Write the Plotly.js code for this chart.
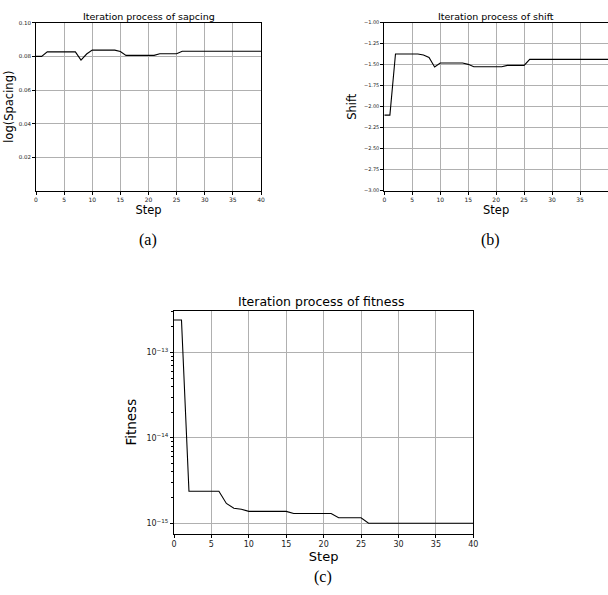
<!DOCTYPE html>
<html><head><meta charset="utf-8">
<script src="https://cdn.plot.ly/plotly-3.0.1.min.js"></script>
<style>html,body{margin:0;padding:0;background:#fff}#chart{width:608px;height:595px}</style>
</head><body><div id="chart"></div>
<script>
const steps = Array.from({length: 41}, (_, i) => i);
const spacing = [0.0800,0.0800,0.0827,0.0827,0.0827,0.0827,0.0827,0.0827,0.0778,0.0814,
  0.0837,0.0837,0.0837,0.0837,0.0837,0.0829,0.0806,0.0806,0.0806,0.0806,0.0806,0.0806,
  0.0816,0.0816,0.0816,0.0816,0.0831,0.0831,0.0831,0.0831,0.0831,0.0831,0.0831,0.0831,
  0.0831,0.0831,0.0831,0.0831,0.0831,0.0831,0.0831];
const shift = [-2.10,-2.10,-1.373,-1.373,-1.373,-1.373,-1.373,-1.385,-1.413,-1.528,
  -1.48,-1.48,-1.48,-1.48,-1.48,-1.496,-1.524,-1.524,-1.524,-1.524,-1.524,-1.524,
  -1.508,-1.508,-1.508,-1.508,-1.437,-1.437,-1.437,-1.437,-1.437,-1.437,-1.437,-1.437,
  -1.437,-1.437,-1.437,-1.437,-1.437,-1.437,-1.437];
const fitness = [2.42e-13,2.42e-13,2.37e-15,2.37e-15,2.37e-15,2.37e-15,2.37e-15,1.71e-15,1.50e-15,1.46e-15,
  1.38e-15,1.38e-15,1.38e-15,1.38e-15,1.38e-15,1.38e-15,1.30e-15,1.30e-15,1.30e-15,1.30e-15,1.30e-15,1.30e-15,
  1.16e-15,1.16e-15,1.16e-15,1.16e-15,1.0e-15,1.0e-15,1.0e-15,1.0e-15,1.0e-15,1.0e-15,1.0e-15,1.0e-15,
  1.0e-15,1.0e-15,1.0e-15,1.0e-15,1.0e-15,1.0e-15,1.0e-15];
const xTicks = [0,5,10,15,20,25,30,35,40];
const spacingTicks = [0.02,0.04,0.06,0.08,0.10];
const spacingTickText = ['0.02','0.04','0.06','0.08','0.10'];
const shiftTicks = [-3.00,-2.75,-2.50,-2.25,-2.00,-1.75,-1.50,-1.25,-1.00];
const shiftTickText = ['−3.00','−2.75','−2.50','−2.25','−2.00','−1.75','−1.50','−1.25','−1.00'];
const fitTicks = [1e-15,1e-14,1e-13];
const fitTickText = ['10<sup>−15</sup>','10<sup>−14</sup>','10<sup>−13</sup>'];
const fitMinorTicks = [2e-15,3e-15,4e-15,5e-15,6e-15,7e-15,8e-15,9e-15,
  2e-14,3e-14,4e-14,5e-14,6e-14,7e-14,8e-14,9e-14,2e-13,3e-13];

const F = 'DejaVu Sans, sans-serif';
const line = {color:'#000', width:1.1};
const traces = [
  {x: steps, y: spacing, type:'scatter', mode:'lines', line, xaxis:'x', yaxis:'y'},
  {x: steps, y: shift, type:'scatter', mode:'lines', line, xaxis:'x2', yaxis:'y2'},
  {x: steps, y: fitness, type:'scatter', mode:'lines', line, xaxis:'x3', yaxis:'y3'}
];
function ax(extra, fs){
  return Object.assign({showline:true, mirror:true, linecolor:'#000', linewidth:1,
    showgrid:true, gridcolor:'#b0b0b0', gridwidth:1, zeroline:false,
    ticks:'outside', ticklen:3, tickcolor:'#000', tickwidth:1,
    tickfont:{family:F, size:fs, color:'#222'}}, extra);
}
const W=608, H=595;
const px = v => v/W, py = v => 1 - v/H;
function note(text, x, y, size, fam){
  return {text, x:px(x), y:py(y), xref:'paper', yref:'paper', xanchor:'center', yanchor:'middle',
    showarrow:false, font:{family:fam||F, size, color:'#000'}};
}
const layout = {
  width:W, height:H, margin:{l:0,r:0,t:0,b:0}, showlegend:false,
  paper_bgcolor:'#fff', plot_bgcolor:'#fff',
  xaxis: ax({domain:[px(36),px(261)], range:[0,40], tickvals:xTicks, anchor:'y',
    title:{text:'Step', font:{family:F,size:11.5,color:'#000'}, standoff:0}}, 6),
  yaxis: ax({domain:[py(190.7),py(22.7)], range:[0.0003,0.1], tickvals:spacingTicks, ticktext:spacingTickText, anchor:'x',
    title:{text:'log(Spacing)', font:{family:F,size:11.5,color:'#000'}, standoff:2}}, 5.5),
  xaxis2: ax({domain:[px(384.3),1], range:[0,40], tickvals:xTicks, anchor:'y2',
    title:{text:'Step', font:{family:F,size:11.5,color:'#000'}, standoff:0}}, 6),
  yaxis2: ax({domain:[py(190.7),py(22.7)], range:[-3,-1], tickvals:shiftTicks, ticktext:shiftTickText, anchor:'x2',
    title:{text:'Shift', font:{family:F,size:11.5,color:'#000'}, standoff:4}}, 5),
  xaxis3: ax({domain:[px(174),px(473.3)], range:[0,40], tickvals:xTicks, anchor:'y3',
    title:{text:'Step', font:{family:F,size:13,color:'#000'}, standoff:0}}, 8),
  yaxis3: ax({domain:[py(533.7),py(310.7)], type:'log', range:[-15.122,-12.508], tickvals:fitTicks, ticktext:fitTickText, anchor:'x3',
    minor:{ticks:'outside', ticklen:2, tickcolor:'#000', tickmode:'array', tickvals:fitMinorTicks, showgrid:false},
    title:{text:'Fitness', font:{family:F,size:13.5,color:'#000'}, standoff:6}}, 8),
  annotations: [
    note('Iteration process of sapcing', 148.5, 16, 9.5),
    note('Iteration process of shift', 496, 16, 9.5),
    note('Iteration process of fitness', 321, 301, 12.5),
    note('(a)', 148, 240, 16, 'Liberation Serif, serif'),
    note('(b)', 490, 240, 16, 'Liberation Serif, serif'),
    note('(c)', 323, 577, 16, 'Liberation Serif, serif')
  ]
};
Plotly.newPlot('chart', traces, layout, {staticPlot:true, displayModeBar:false});
</script></body></html>
